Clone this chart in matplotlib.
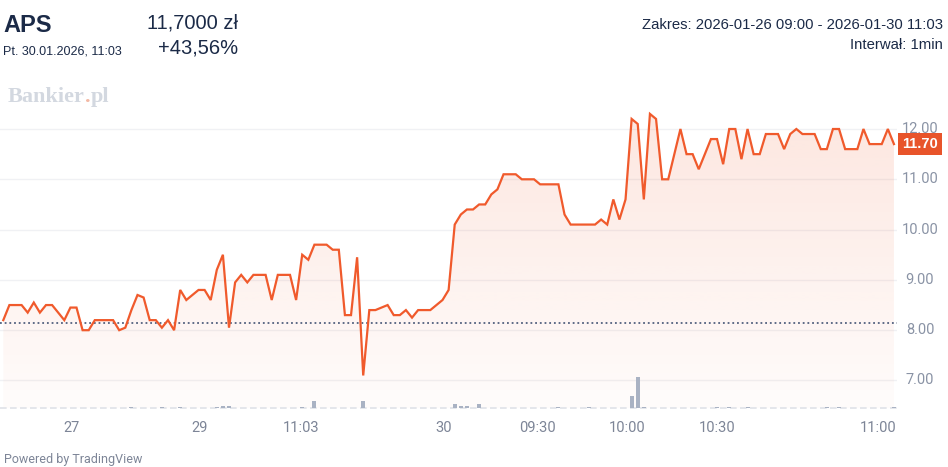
import numpy as np
import matplotlib
matplotlib.use("Agg")
import matplotlib.pyplot as plt
from matplotlib.transforms import blended_transform_factory
from matplotlib.patches import PathPatch
from matplotlib.path import Path

# ---------------- data ----------------
ticker = "APS"
timestamp = "Pt. 30.01.2026, 11:03"
last_price_txt = "11,7000 zł"
change_txt = "+43,56%"
range_txt = "Zakres: 2026-01-26 09:00 - 2026-01-30 11:03"
interval_txt = "Interwał: 1min"

prices = [
    8.20, 8.50, 8.50, 8.50, 8.35, 8.55, 8.35, 8.50, 8.50, 8.35,
    8.20, 8.45, 8.45, 8.00, 8.00, 8.20, 8.20, 8.20, 8.20, 8.00,
    8.05, 8.40, 8.70, 8.65, 8.20, 8.20, 8.05, 8.20, 8.00, 8.80,
    8.60, 8.70, 8.80, 8.80, 8.60, 9.20, 9.50, 8.05, 8.95, 9.10,
    8.95, 9.10, 9.10, 9.10, 8.60, 9.10, 9.10, 9.10, 8.60, 9.50,
    9.40, 9.70, 9.70, 9.70, 9.60, 9.60, 8.30, 8.30, 9.45, 7.10,
    8.40, 8.40, 8.45, 8.50, 8.30, 8.30, 8.40, 8.25, 8.40, 8.40,
    8.40, 8.50, 8.60, 8.80, 10.10, 10.30, 10.40, 10.40, 10.50, 10.50,
    10.70, 10.80, 11.10, 11.10, 11.10, 11.00, 11.00, 11.00, 10.90, 10.90,
    10.90, 10.90, 10.30, 10.10, 10.10, 10.10, 10.10, 10.10, 10.20, 10.10,
    10.60, 10.20, 10.60, 12.20, 12.10, 10.60, 12.30, 12.20, 11.00, 11.00,
    11.50, 12.00, 11.50, 11.50, 11.20, 11.50, 11.80, 11.80, 11.30, 12.00,
    12.00, 11.40, 12.00, 11.50, 11.50, 11.90, 11.90, 11.90, 11.60, 11.90,
    12.00, 11.90, 11.90, 11.90, 11.60, 11.60, 12.00, 12.00, 11.60, 11.60,
    11.60, 12.00, 11.70, 11.70, 11.70, 12.00, 11.70,
]
prev_close = 8.15
last_price = 11.70

vol_idx = [21, 26, 29, 35, 36, 37, 49, 51, 59, 74, 75, 76, 78, 91, 96,
           103, 104, 105, 117, 119, 122, 135, 137, 146]
vol_val = [1, 1, 1, 1, 2, 2, 1, 7, 7, 4, 2, 2, 4, 1, 1,
           12, 32, 1, 1, 1.5, 1, 1, 1, 1]

price_ticks = [7.0, 8.0, 9.0, 10.0, 11.0, 12.0]
x_tick_labels = ["27", "29", "11:03", "30", "09:30", "10:00", "10:30", "11:00"]
x_tick_pos = [11.1, 32.1, 48.8, 72.2, 87.5, 102.3, 117.0, 143.4]

# ---------------- figure ----------------
W, H = 948, 467
fig = plt.figure(figsize=(W / 100, H / 100), dpi=100)
fig.patch.set_facecolor("white")

ax_left, ax_right, ax_top, ax_bot = 0, 897, 100, 408
ax = fig.add_axes([ax_left / W, 1 - ax_bot / H, (ax_right - ax_left) / W, (ax_bot - ax_top) / H])
ax.set_facecolor("white")

x = np.arange(len(prices))
y = np.array(prices)

ymin = 12 - (ax_bot - 129) / 50.3
ymax = 12 + (129 - ax_top) / 50.3
xmin, xmax = -0.54, 146.5
ax.set_xlim(xmin, xmax)
ax.set_ylim(ymin, ymax)

# grid
for t in price_ticks:
    ax.axhline(t, color="#f0f1f4", lw=1.0, zorder=0)

# gradient fill
line_col = "#f05a2c"
grad = np.linspace(1, 0, 256).reshape(-1, 1)
rgba = np.zeros((256, 1, 4))
rgba[..., 0] = 0xf0 / 255
rgba[..., 1] = 0x5a / 255
rgba[..., 2] = 0x2c / 255
rgba[..., 3] = 0.02 + 0.13 * grad
im = ax.imshow(rgba, aspect="auto", extent=(xmin, xmax, ymin, 12.35),
               origin="upper", zorder=1, interpolation="bilinear")
verts = [(x[0], ymin)] + list(zip(x, y)) + [(x[-1], ymin), (x[0], ymin)]
codes = [Path.MOVETO] + [Path.LINETO] * (len(verts) - 2) + [Path.CLOSEPOLY]
clip = PathPatch(Path(verts, codes), transform=ax.transData, facecolor="none", edgecolor="none")
ax.add_patch(clip)
im.set_clip_path(clip)

# price line
ax.plot(x, y, color=line_col, lw=1.6, zorder=4, solid_joinstyle="miter")

# previous close dotted
ax.axhline(prev_close, color="#52607e", lw=1.3, ls=(0, (1, 1.6)), zorder=3)

# volume
axv = ax.twinx()
axv.set_position(ax.get_position())
axv.bar(vol_idx, vol_val, width=0.65, color="#a9b2c3", zorder=2)
axv.set_ylim(0, max(vol_val) * (ax_bot - ax_top) / 31.5)
axv.set_xlim(xmin, xmax)
axv.axis("off")

# baseline
ax.axhline(ymin, color="#dfe2e8", lw=1.2, ls=(0, (4, 2)), zorder=5, clip_on=False)

for s in ax.spines.values():
    s.set_visible(False)

tick_family = ["Liberation Sans Narrow", "Roboto", "DejaVu Sans"]
# x ticks
ax.set_xticks(x_tick_pos)
ax.set_xticklabels(x_tick_labels)
ax.tick_params(axis="x", length=0, pad=9, labelsize=10.5, labelcolor="#7d8597")
for lab in ax.get_xticklabels():
    lab.set_family(tick_family)

# y ticks on right
ax.set_yticks([])
tr = blended_transform_factory(fig.transFigure, ax.transData)
for t in price_ticks:
    ax.text(920 / W, t, f"{t:.2f}", transform=tr, ha="center", va="center",
            fontsize=10.5, color="#8a93a5", family=tick_family)
ax.text(920 / W, last_price, f"{last_price:.2f}", transform=tr, ha="center", va="center",
        fontsize=10.5, color="white", fontweight="bold",
        family=["Liberation Sans", "DejaVu Sans"],
        bbox=dict(boxstyle="square,pad=0.28", facecolor="#e8542a", edgecolor="none"),
        zorder=10)

# header texts
navy = "#1b2a47"
fig.text(3 / W, 1 - 25 / H, ticker, fontsize=17, fontweight="bold", color=navy,
         family="Liberation Sans", va="center", ha="left")
fig.text(3 / W, 1 - 51 / H, timestamp, fontsize=9, color=navy,
         family="Liberation Sans", va="center", ha="left")
fig.text(238 / W, 1 - 23 / H, last_price_txt, fontsize=14.5, color=navy,
         family="Liberation Sans", va="center", ha="right")
fig.text(238 / W, 1 - 48 / H, change_txt, fontsize=14.5, color=navy,
         family="Liberation Sans", va="center", ha="right")
fig.text(943 / W, 1 - 25 / H, range_txt, fontsize=10.7, color=navy,
         family="Liberation Sans", va="center", ha="right")
fig.text(943 / W, 1 - 45 / H, interval_txt, fontsize=10.7, color=navy,
         family="Liberation Sans", va="center", ha="right")

# watermark "Bankier.pl"
fig.canvas.draw()
renderer = fig.canvas.get_renderer()
wm_kw = dict(fontsize=16, family="Liberation Serif", fontweight="bold",
             va="baseline", ha="left")
xpos = 8
parts = [("Bankier", "#d3d8e0"), (".", "#f3b8a4"), ("pl", "#d3d8e0")]
for txt, col in parts:
    t = fig.text(xpos / W, 1 - 102 / H, txt, color=col, **wm_kw)
    bb = t.get_window_extent(renderer=renderer)
    xpos += bb.width

fig.text(4 / W, 1 - 459 / H, "Powered by TradingView", fontsize=9, color="#7d8597",
         family=tick_family, va="center", ha="left")

fig.savefig("out.png", dpi=100, facecolor="white")
